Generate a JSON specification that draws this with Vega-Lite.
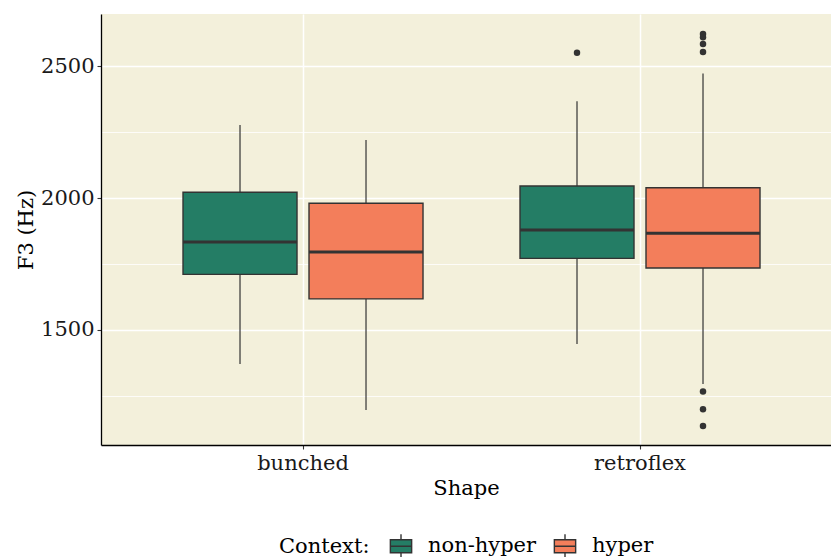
{
  "$schema": "https://vega.github.io/schema/vega-lite/v6.json",
  "width": 730,
  "height": 431,
  "autosize": {"type": "none"},
  "padding": {"left": 101, "top": 14, "right": 0, "bottom": 112},
  "background": "white",
  "config": {
    "font": "DejaVu Serif",
    "view": {"fill": "#F3F0DB", "stroke": null},
    "axis": {
      "labelFont": "DejaVu Serif",
      "titleFont": "DejaVu Serif",
      "labelFontSize": 21,
      "titleFontSize": 21,
      "titleFontWeight": "normal",
      "labelColor": "#1a1a1a",
      "titleColor": "#000000",
      "domainColor": "#000000",
      "domainWidth": 1.3,
      "tickColor": "#333333",
      "tickSize": 4,
      "tickWidth": 1.1,
      "gridColor": "#FFFFFF",
      "gridOpacity": 1
    },
    "legend": {
      "labelFont": "DejaVu Serif",
      "titleFont": "DejaVu Serif",
      "labelFontSize": 21,
      "titleFontSize": 21,
      "titleFontWeight": "normal",
      "labelColor": "#000000",
      "titleColor": "#000000",
      "layout": {"bottom": {"anchor": "middle"}}
    }
  },
  "datasets": {
    "boxes": [
      {"Shape": "bunched", "Context": "non-hyper", "lower": 1370, "q1": 1710, "median": 1833, "q3": 2022, "upper": 2277},
      {"Shape": "bunched", "Context": "hyper", "lower": 1195, "q1": 1617, "median": 1795, "q3": 1980, "upper": 2220},
      {"Shape": "retroflex", "Context": "non-hyper", "lower": 1446, "q1": 1771, "median": 1879, "q3": 2046, "upper": 2368},
      {"Shape": "retroflex", "Context": "hyper", "lower": 1294, "q1": 1734, "median": 1866, "q3": 2039, "upper": 2473}
    ],
    "outliers": [
      {"Shape": "retroflex", "Context": "non-hyper", "F3": 2552},
      {"Shape": "retroflex", "Context": "hyper", "F3": 2623},
      {"Shape": "retroflex", "Context": "hyper", "F3": 2611},
      {"Shape": "retroflex", "Context": "hyper", "F3": 2585},
      {"Shape": "retroflex", "Context": "hyper", "F3": 2555},
      {"Shape": "retroflex", "Context": "hyper", "F3": 1265},
      {"Shape": "retroflex", "Context": "hyper", "F3": 1198},
      {"Shape": "retroflex", "Context": "hyper", "F3": 1134}
    ]
  },
  "encoding": {
    "x": {
      "field": "Shape",
      "type": "nominal",
      "title": "Shape",
      "scale": {"domain": ["bunched", "retroflex"], "paddingInner": 0.2878, "paddingOuter": 0.227, "align": 0.536},
      "axis": {"labelAngle": 0, "grid": true, "gridWidth": 1.5, "bandPosition": 0.5, "labelPadding": 3, "titlePadding": 4, "orient": "bottom"}
    },
    "xOffset": {
      "field": "Context",
      "type": "nominal",
      "scale": {"domain": ["non-hyper", "hyper"], "paddingInner": 0.0952, "paddingOuter": 0}
    }
  },
  "layer": [
    {
      "data": {"name": "boxes"},
      "mark": {"type": "rule", "color": "#333333", "strokeWidth": 1.2},
      "encoding": {
        "y": {
          "field": "lower",
          "type": "quantitative",
          "title": "F3 (Hz)",
          "scale": {"domain": [1062, 2699], "nice": false, "zero": false},
          "axis": {
            "values": [1250, 1500, 1750, 2000, 2250, 2500],
            "format": "d",
            "labelExpr": "datum.value % 500 === 0 ? datum.label : ''",
            "grid": true,
            "gridWidth": {"condition": {"test": "datum.value % 500 === 0", "value": 1.5}, "value": 0.8},
            "tickOpacity": {"condition": {"test": "datum.value % 500 === 0", "value": 1}, "value": 0},
            "labelPadding": 3,
            "titlePadding": 4
          }
        },
        "y2": {"field": "upper"}
      }
    },
    {
      "data": {"name": "boxes"},
      "mark": {"type": "bar", "stroke": "#333333", "strokeWidth": 1.4, "opacity": 1},
      "encoding": {
        "y": {"field": "q1", "type": "quantitative"},
        "y2": {"field": "q3"},
        "color": {
          "field": "Context",
          "type": "nominal",
          "scale": {"domain": ["non-hyper", "hyper"], "range": ["#247D65", "#F37E5B"]},
          "legend": {
            "title": "Context:",
            "orient": "bottom",
            "direction": "horizontal",
            "titleOrient": "left",
            "titleAnchor": "middle",
            "offset": 35,
            "symbolType": "M-0.9,-0.55H0.9V0.55H-0.9Z M-0.9,0H0.9 M0,-0.55V-1 M0,0.55V1",
            "symbolSize": 560,
            "symbolStrokeColor": "#333333",
            "symbolStrokeWidth": 1.4,
            "symbolOpacity": 1,
            "columnPadding": 14,
            "labelOffset": 14,
            "titlePadding": 18
          }
        }
      }
    },
    {
      "data": {"name": "boxes"},
      "mark": {"type": "bar", "stroke": "#333333", "strokeWidth": 3, "opacity": 1},
      "encoding": {
        "y": {"field": "median", "type": "quantitative"},
        "y2": {"field": "median"},
        "color": {"field": "Context", "type": "nominal"}
      }
    },
    {
      "data": {"name": "outliers"},
      "mark": {"type": "point", "filled": true, "color": "#333333", "size": 42, "opacity": 1},
      "encoding": {
        "y": {"field": "F3", "type": "quantitative"}
      }
    }
  ]
}
